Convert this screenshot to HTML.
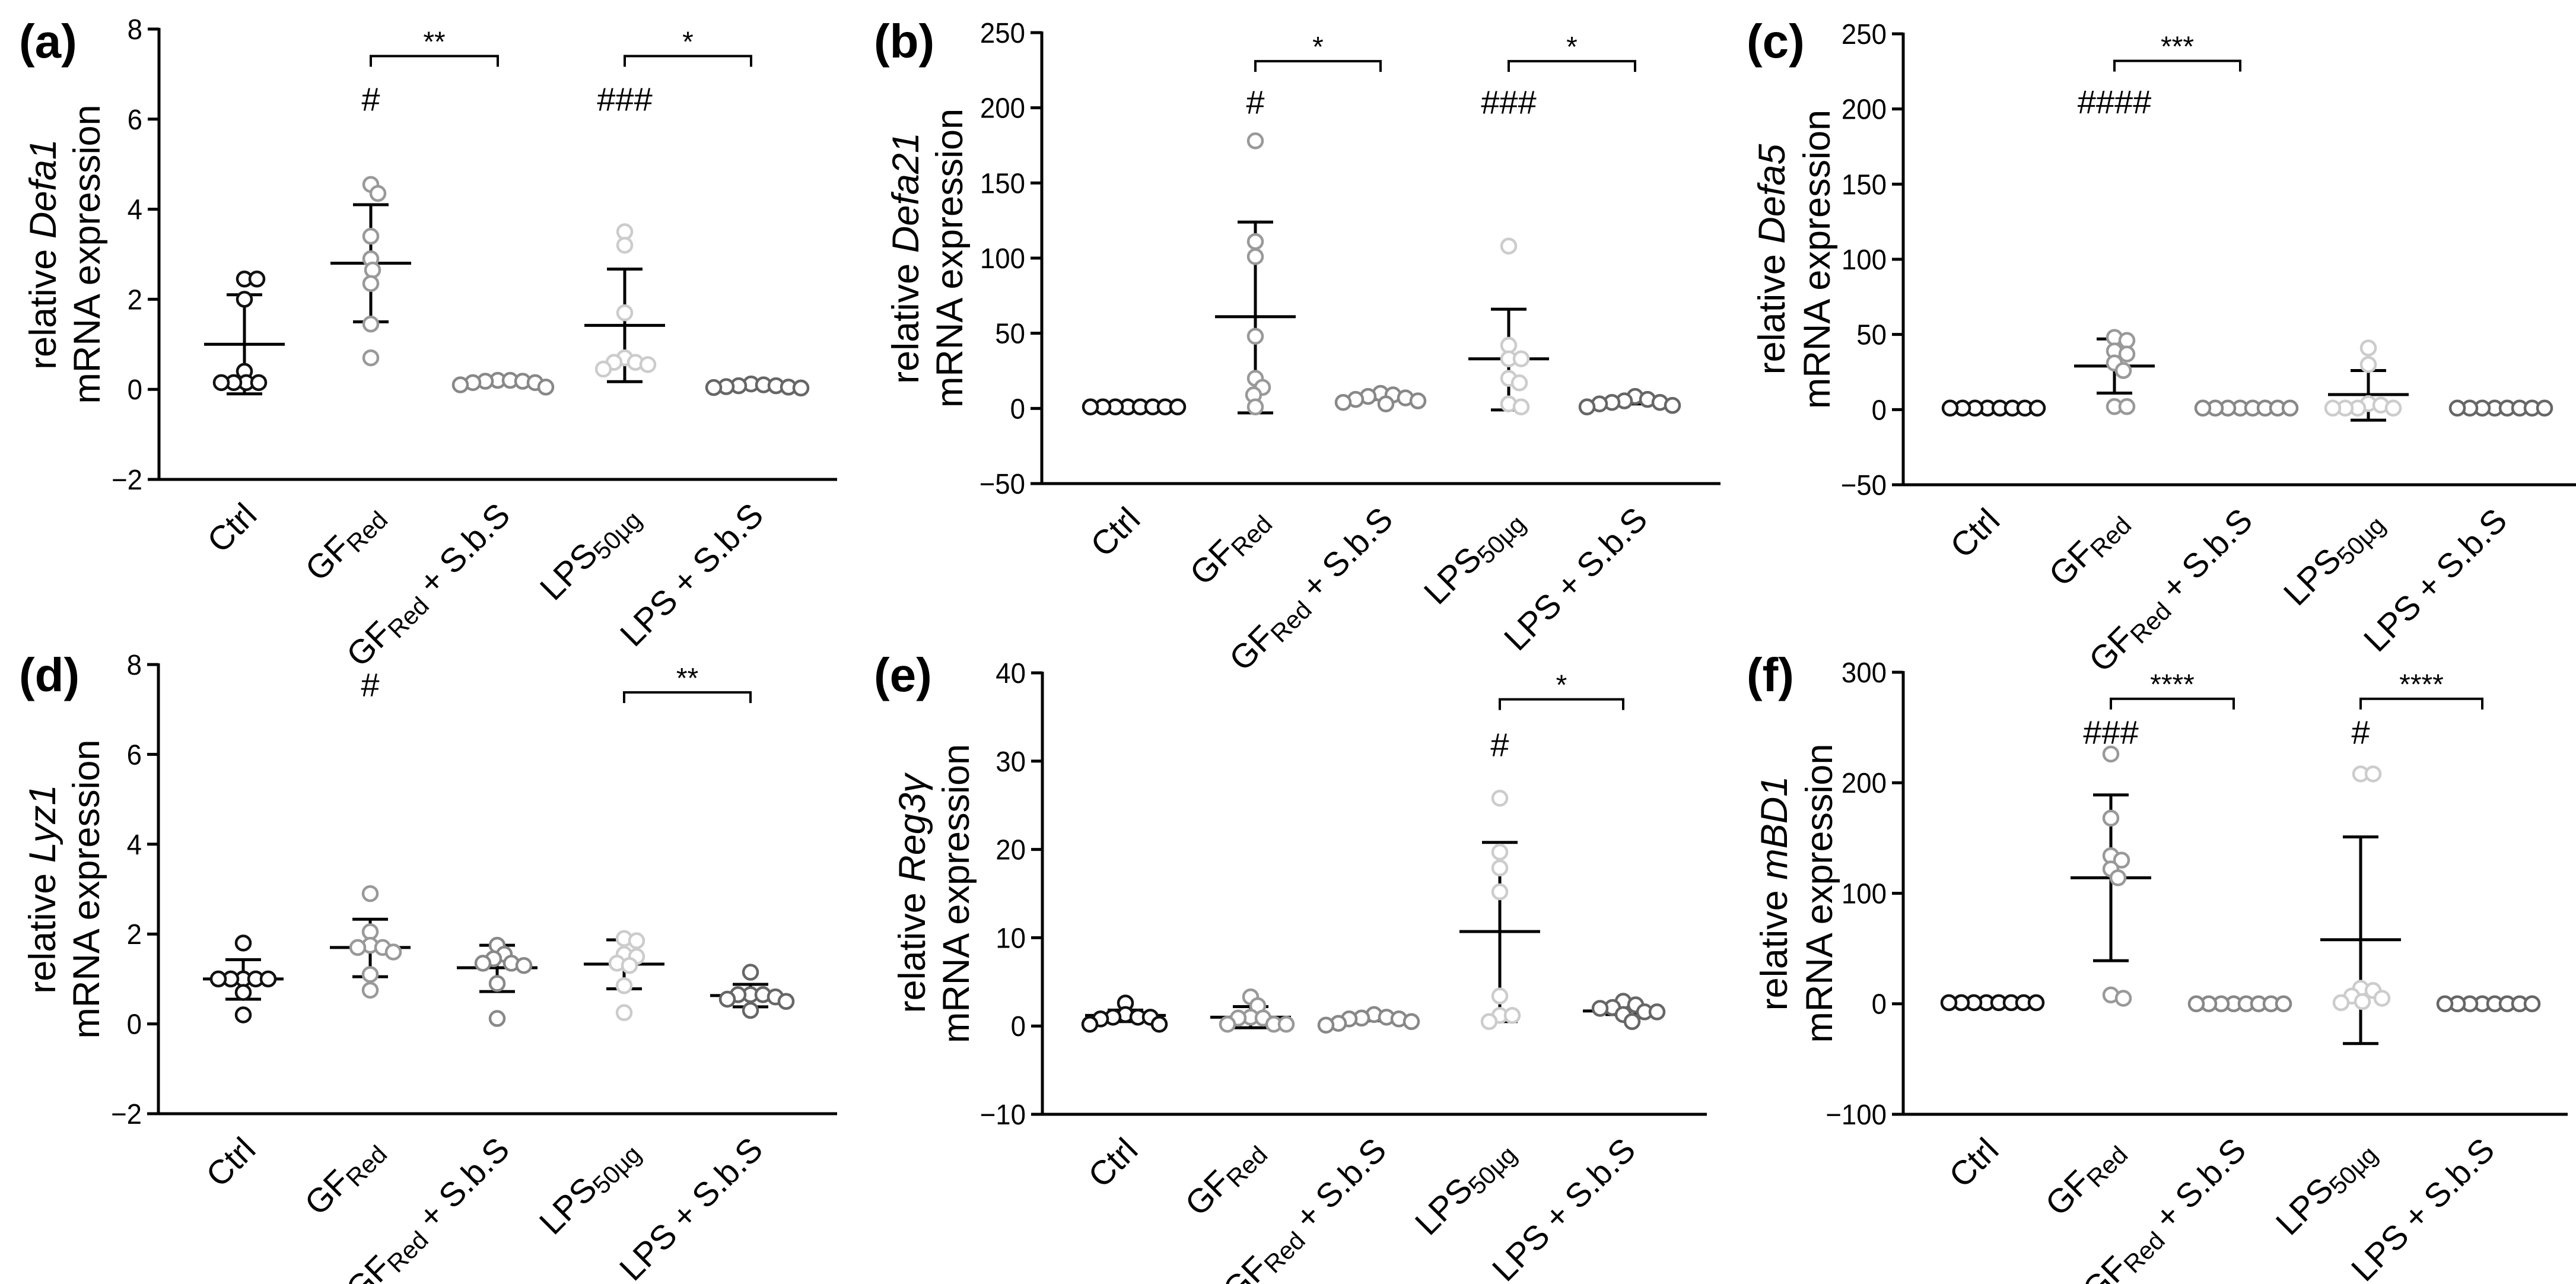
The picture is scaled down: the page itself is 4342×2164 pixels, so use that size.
<!DOCTYPE html>
<html><head><meta charset="utf-8"><style>
html,body{margin:0;padding:0;background:#fff;}
svg{display:block;font-family:"Liberation Sans",Arial,sans-serif;}
</style></head><body>
<svg id="fig" width="4342" height="2164" viewBox="0 0 4342 2164" xmlns="http://www.w3.org/2000/svg"></svg>
<script>
// ---- data ----
const categories = ['Ctrl','GFRed','GFRed + S.b.S','LPS50µg','LPS + S.b.S'];
const groupColors = ['#111','#999','#888','#ccc','#666'];

const aPoints = [[2.45,2.45,2.0,0.4,0.15,0.15,0.15,0.15],[4.55,4.35,3.4,2.9,2.65,2.35,1.45,0.7],[0.18,0.15,0.2,0.1,0.05,0.18,0.15,0.2],[3.5,3.2,1.7,0.7,0.6,0.45,0.55,0.6],[0.05,0.08,0.12,0.04,0.03,0.1,0.08,0.06]];
const aMean = [1.0,2.8,0.16,1.42,0.07];
const aLo = [-0.1,1.5,0.12,0.17,0.05];
const aHi = [2.1,4.1,0.2,2.67,0.09];
const aTicks = [-2,0,2,4,6,8];

const bPoints = [[1,1,1,1,1,1,1,1],[178,111,101,48,20,14,9,1],[10,9,8,7,6,5,4,3],[108,42,33,33,20,17,3,1],[8,6,5,4,3,2,1,4]];
const bMean = [1,61,7,33,4];
const bLo = [0,-3,6,-1,3];
const bHi = [2,124,8,66,5];
const bTicks = [-50,0,50,100,150,200,250];

const cPoints = [[1,1,1,1,1,1,1,1],[48,46,39,37,31,26,2,2],[1,1,1,1,1,1,1,1],[41,30,3,1,1,1,1,4],[1,1,1,1,1,1,1,1]];
const cMean = [1,29,1,10,1];
const cLo = [0,11,1,-7,0];
const cHi = [2,47,1,26,2];
const cTicks = [-50,0,50,100,150,200,250];

const dPoints = [[1.8,1.0,1.0,1.0,1.0,1.0,0.7,0.2],[2.9,2.05,1.7,1.6,1.7,1.75,1.1,0.75],[1.75,1.55,1.45,1.35,1.3,1.35,0.9,0.12],[1.9,1.85,1.55,1.5,1.3,1.35,0.85,0.25],[1.15,0.65,0.65,0.6,0.65,0.55,0.5,0.3]];
const dMean = [1.0,1.7,1.25,1.33,0.63];
const dLo = [0.55,1.05,0.72,0.78,0.38];
const dHi = [1.43,2.33,1.75,1.87,0.88];
const dTicks = [-2,0,2,4,6,8];

const ePoints = [[2.6,1.3,1.0,1.0,1.0,0.8,0.2,0.2],[3.3,2.3,1.0,0.9,0.9,0.2,0.2,0.2],[1.3,1.0,0.9,0.8,0.8,0.5,0.3,0.1],[25.8,19.7,17.9,15.2,3.4,1.2,1.2,0.5],[2.8,2.4,2.1,2.0,1.6,1.6,1.3,0.5]];
const eMean = [1.2,1.0,0.75,10.7,1.7];
const eLo = [0.5,-0.2,0.6,0.5,1.3];
const eHi = [1.8,2.2,0.9,20.8,2.3];
const eTicks = [-10,0,10,20,30,40];

const fPoints = [[1,1,1,1,1,1,1,1],[226,168,134,130,122,114,8,5],[0,0,0,0,0,0,0,0],[208,208,14,12,7,5,2,1],[0,0,0,0,0,0,0,0]];
const fMean = [1,114,0,58,0];
const fLo = [0,39,0,-36,0];
const fHi = [2,189,0,151,0];
const fTicks = [-100,0,100,200,300];

// ---- layout ----
const NS='http://www.w3.org/2000/svg';
const svg=document.getElementById('fig');
function mk(tag,attrs,parent){const e=document.createElementNS(NS,tag);for(const k in attrs)e.setAttribute(k,attrs[k]);(parent||svg).appendChild(e);return e;}

const panels=[
 {id:'a',gene:'Defa1',pts:aPoints,mean:aMean,lo:aLo,hi:aHi,ticks:aTicks,ax:268,top:49,bot:808,xend:1411,gx:[412,625,839,1053,1266],tOff:[-174,-100],lx:32,ly:97,
  sig:[{g1:1,g2:2,v:7.4,t:'**'},{g1:3,g2:4,v:7.4,t:'*'}],hash:[{g:1,v:6.45,t:'#'},{g:3,v:6.45,t:'###'}]},
 {id:'b',gene:'Defa21',pts:bPoints,mean:bMean,lo:bLo,hi:bHi,ticks:bTicks,ax:1756,top:55,bot:815,xend:2900,gx:[1901,2116,2327,2543,2756],tOff:[-208,-134],lx:1473,ly:97,
  sig:[{g1:1,g2:2,v:231,t:'*'},{g1:3,g2:4,v:231,t:'*'}],hash:[{g:1,v:204,t:'#'},{g:3,v:204,t:'###'}]},
 {id:'c',gene:'Defa5',pts:cPoints,mean:cMean,lo:cLo,hi:cHi,ticks:cTicks,ax:3208,top:57,bot:817,xend:4342,gx:[3350,3564,3776,3992,4205],tOff:[-200,-124],lx:2944,ly:97,
  sig:[{g1:1,g2:2,v:232,t:'***'}],hash:[{g:1,v:205,t:'####'}]},
 {id:'d',gene:'Lyz1',pts:dPoints,mean:dMean,lo:dLo,hi:dHi,ticks:dTicks,ax:267,top:1120,bot:1877,xend:1411,gx:[410,624,838,1052,1265],tOff:[-174,-100],lx:32,ly:1165,
  sig:[{g1:3,g2:4,v:7.38,t:'**'}],hash:[{g:1,v:7.56,t:'#'}]},
 {id:'e',gene:'Reg3γ',pts:ePoints,mean:eMean,lo:eLo,hi:eHi,ticks:eTicks,ax:1757,top:1134,bot:1878,xend:2877,gx:[1897,2108,2316,2528,2736],tOff:[-198,-124],lx:1473,ly:1165,
  sig:[{g1:3,g2:4,v:37,t:'*'}],hash:[{g:3,v:31.9,t:'#'}]},
 {id:'f',gene:'mBD1',pts:fPoints,mean:fMean,lo:fLo,hi:fHi,ticks:fTicks,ax:3208,top:1133,bot:1878,xend:4328,gx:[3348,3558,3765,3979,4184],tOff:[-196,-120],lx:2944,ly:1165,
  sig:[{g1:1,g2:2,v:276,t:'****'},{g1:3,g2:4,v:276,t:'****'}],hash:[{g:1,v:246,t:'###'},{g:3,v:246,t:'#'}]}
];

const R=12, LW=5, MIND=19;
panels.forEach(p=>{
  const g=mk('g',{});
  
  
  const tmin=p.ticks[0], tmax=p.ticks[p.ticks.length-1];
  const y=v=>p.bot-(v-tmin)/(tmax-tmin)*(p.bot-p.top);

  const lab=mk('text',{x:p.lx,y:p.ly,'font-size':80,'font-weight':'bold'},g);
  lab.textContent='('+p.id+')';
  
  

  const yaxis=mk('line',{x1:p.ax,y1:p.top-2,x2:p.ax,y2:p.bot,stroke:'#000','stroke-width':LW},g);
  
  
  const xaxis=mk('line',{x1:p.ax-2,y1:p.bot,x2:p.xend,y2:p.bot,stroke:'#000','stroke-width':LW},g);
  
  

  p.ticks.forEach(t=>{
    mk('line',{x1:p.ax-19,y1:y(t),x2:p.ax,y2:y(t),stroke:'#000','stroke-width':LW},g);
    const tx=p.ax-28;
    const tl=mk('text',{x:tx,y:y(t)+17,'font-size':48,'text-anchor':'end',transform:`translate(${tx},0) scale(0.95,1) translate(${-tx},0)`},g);
    tl.textContent=(t<0?'\u2212'+(-t):String(t));
    
    
  });

  const cy=(p.top+p.bot)/2;
  const t1=mk('text',{x:0,y:0,'font-size':63,'text-anchor':'middle',transform:`translate(${p.ax+p.tOff[0]},${cy}) rotate(-90)`},g);
  t1.innerHTML='relative <tspan font-style="italic">'+p.gene+'</tspan>';
  
  
  const t2=mk('text',{x:0,y:0,'font-size':63,'text-anchor':'middle',transform:`translate(${p.ax+p.tOff[1]},${cy}) rotate(-90)`},g);
  t2.textContent='mRNA expression';
  
  

  const labelsHTML=['Ctrl','GF<tspan font-size="42" dy="10">Red</tspan>','GF<tspan font-size="42" dy="10">Red</tspan><tspan dy="-10"> + S.b.S</tspan>','LPS<tspan font-size="42" dy="10">50µg</tspan>','LPS + S.b.S'];
  p.gx.forEach((gx,i)=>{
    const xl=mk('text',{x:0,y:0,'font-size':57,'text-anchor':'end',transform:`translate(${gx+24},${p.bot+64}) rotate(-45)`},g);
    xl.innerHTML=labelsHTML[i];
    
    
  });

  p.gx.forEach((gx,i)=>{
    const col=groupColors[i];
    const pts=p.pts[i].map(v=>({v,py:y(v)})).sort((a,b)=>b.v-a.v);
    const placed=[];
    pts.forEach(pt=>{
      let best=null;
      for(let k=0;k<200;k++){
        const off=(k%2?1:-1)*Math.ceil(k/2)*3;
        const ok=placed.every(q=>Math.hypot(q.x-off,q.py-pt.py)>=MIND);
        if(ok){best=off;break;}
      }
      pt.x=best===null?0:best;placed.push(pt);
    });
    const eb=mk('g',{stroke:'#000','stroke-width':LW},g);
    
    
    mk('line',{x1:gx,y1:y(p.lo[i]),x2:gx,y2:y(p.hi[i])},eb);
    mk('line',{x1:gx-30,y1:y(p.lo[i]),x2:gx+30,y2:y(p.lo[i])},eb);
    mk('line',{x1:gx-30,y1:y(p.hi[i]),x2:gx+30,y2:y(p.hi[i])},eb);
    const ml=mk('line',{x1:gx-68,y1:y(p.mean[i]),x2:gx+68,y2:y(p.mean[i]),stroke:'#000','stroke-width':LW},g);
    
    
    pts.forEach(pt=>{
      const c=mk('circle',{cx:gx+pt.x,cy:pt.py,r:R,fill:'#fff',stroke:col,'stroke-width':4.5},g);
      
      
    });
  });

  p.sig.forEach(s=>{
    const x1=p.gx[s.g1], x2=p.gx[s.g2], yy=y(s.v);
    const br=mk('path',{d:`M${x1},${yy+18} V${yy} H${x2} V${yy+18}`,fill:'none',stroke:'#000','stroke-width':4},g);
    
    
    const st=mk('text',{x:(x1+x2)/2,y:yy-8,'font-size':48,'text-anchor':'middle'},g);
    st.textContent=s.t;
    
    
  });
  p.hash.forEach(h=>{
    const ht=mk('text',{x:p.gx[h.g],y:y(h.v)+20,'font-size':56,'text-anchor':'middle'},g);
    ht.textContent=h.t;
    
    
  });
});
</script>
</body></html>
